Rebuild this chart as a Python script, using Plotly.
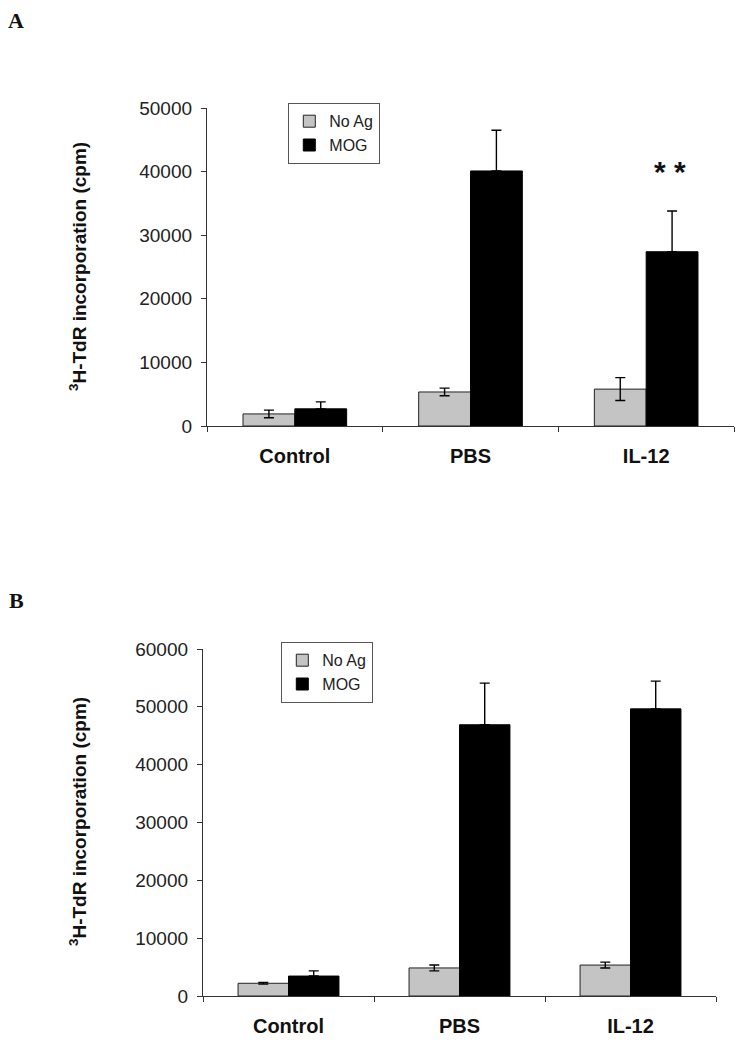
import plotly.graph_objects as go

groups = ["Control", "PBS", "IL-12"]

# panel A
a_noag = [1900, 5350, 5800]
a_noag_err = [600, 600, 1800]
a_mog = [2700, 40100, 27400]
a_mog_err = [1100, 6400, 6400]

# panel B
b_noag = [2200, 4850, 5350]
b_noag_err = [150, 500, 500]
b_mog = [3450, 46900, 49650]
b_mog_err = [900, 7200, 4800]

a_ticks = [0, 10000, 20000, 30000, 40000, 50000]
b_ticks = [0, 10000, 20000, 30000, 40000, 50000, 60000]

GRAY = "#c4c4c4"
FONT = "Liberation Sans, Arial, sans-serif"
W, H, OFF = 747, 1050, 8  # page body adds an 8px margin


def px(x):
    return (x - OFF) / W


def py(y):
    return 1 - (y - OFF) / H


fig = go.Figure()


def add_pair(noag, noag_err, mog, mog_err, xa, ya, legend):
    fig.add_trace(go.Bar(
        x=groups, y=noag, name="No Ag", xaxis=xa, yaxis=ya, legend=legend,
        marker=dict(color=GRAY, line=dict(color="#222222", width=1)),
        error_y=dict(type="data", array=noag_err, color="black", thickness=1.4, width=5),
    ))
    fig.add_trace(go.Bar(
        x=groups, y=mog, name="MOG", xaxis=xa, yaxis=ya, legend=legend,
        marker=dict(color="black", line=dict(color="black", width=1)),
        error_y=dict(type="data", symmetric=False, array=mog_err, arrayminus=[0] * len(mog),
                     color="black", thickness=1.4, width=5),
    ))


add_pair(a_noag, a_noag_err, a_mog, a_mog_err, "x", "y", "legend")
add_pair(b_noag, b_noag_err, b_mog, b_mog_err, "x2", "y2", "legend2")

axis_common = dict(
    showline=True, linecolor="#333333", linewidth=1.3, ticks="outside",
    ticklen=5, tickcolor="#333333", showgrid=False, zeroline=False,
    automargin=False, fixedrange=True,
)
xcommon = dict(tickson="boundaries", ticklabelstandoff=12,
               tickfont=dict(size=20, color="#111111"), **axis_common)
ycommon = dict(ticklabelstandoff=5, tickfont=dict(size=19, color="#222222"), **axis_common)
legcommon = dict(xanchor="left", yanchor="top", bordercolor="#555555", borderwidth=1.3,
                 bgcolor="white", font=dict(size=16, color="#222222"),
                 itemwidth=30, tracegroupgap=0)

fig.update_layout(
    width=W, height=H,
    margin=dict(l=0, r=0, t=0, b=0),
    paper_bgcolor="white", plot_bgcolor="white",
    barmode="group", bargap=0.41, bargroupgap=0,
    font=dict(family=FONT, size=15, color="#222222"),
    xaxis=dict(domain=[px(207), px(734)], anchor="y", **xcommon),
    yaxis=dict(domain=[py(426), py(108)], anchor="x", range=[0, 50000],
               tickvals=a_ticks, ticktext=[str(t) for t in a_ticks], **ycommon),
    xaxis2=dict(domain=[px(203), px(716)], anchor="y2", **xcommon),
    yaxis2=dict(domain=[py(996), py(649)], anchor="x2", range=[0, 60000],
                tickvals=b_ticks, ticktext=[str(t) for t in b_ticks], **ycommon),
    legend=dict(x=px(288), y=py(103), **legcommon),
    legend2=dict(x=px(281), y=py(642), **legcommon),
    showlegend=True,
)

# bold category labels
fig.update_xaxes(tickvals=groups, ticktext=["<b>%s</b>" % g for g in groups])

# y titles
for mid in [267, 822]:
    fig.add_annotation(
        text="<b><sup>3</sup>H-TdR incorporation (cpm)</b>", textangle=-90,
        x=px(78), y=py(mid), xref="paper", yref="paper", showarrow=False,
        xanchor="center", yanchor="middle",
        font=dict(family=FONT, size=19, color="#111111"),
    )

# significance marks
fig.add_annotation(text="<b>* *</b>", x="IL-12", y=a_mog[2] + a_mog_err[2], xref="x", yref="y",
                   xshift=24, yshift=40, showarrow=False, yanchor="middle",
                   font=dict(family=FONT, size=30, color="#111111"))

# panel letters
for letter, ypix in [("A", 20), ("B", 600)]:
    fig.add_annotation(text="<b>%s</b>" % letter, x=px(16), y=py(ypix),
                       xref="paper", yref="paper", showarrow=False,
                       xanchor="center", yanchor="middle",
                       font=dict(family="Liberation Serif, Times New Roman, serif", size=22,
                                 color="#111111"))

fig.write_html("out.html")
